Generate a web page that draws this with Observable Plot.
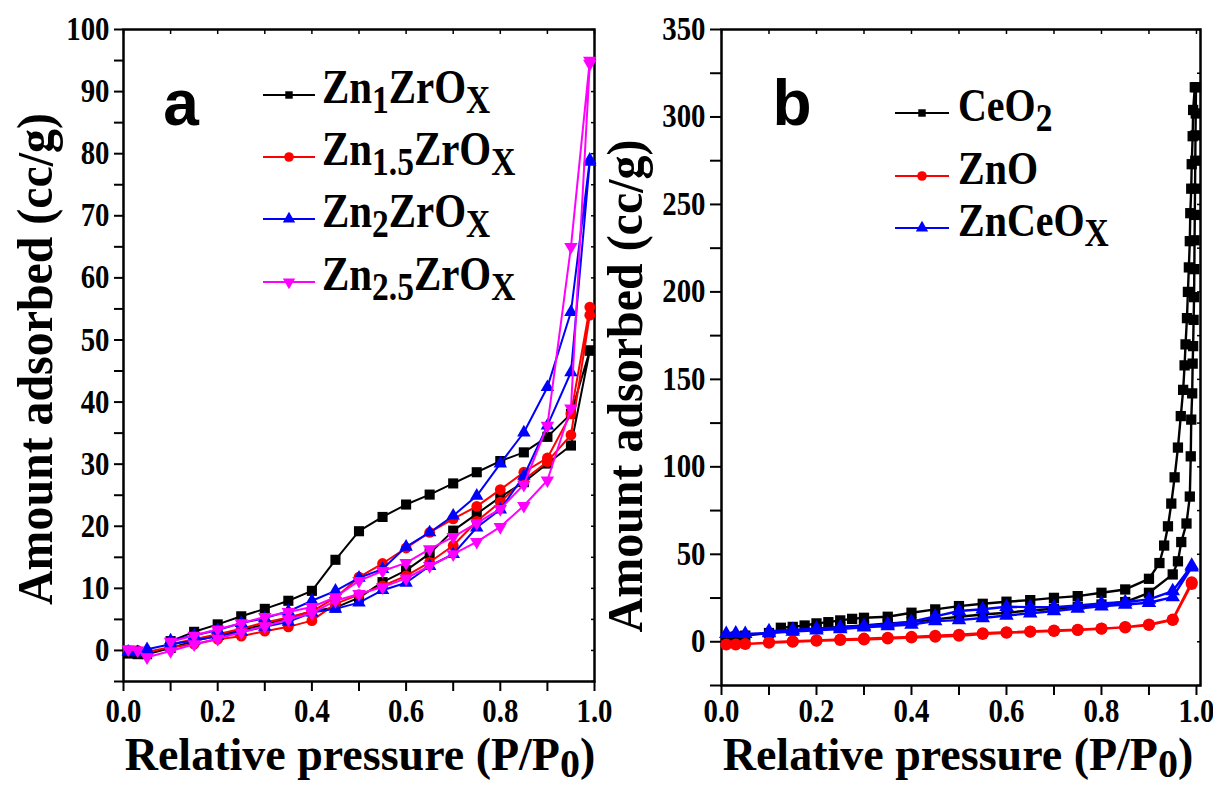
<!DOCTYPE html>
<html><head><meta charset="utf-8">
<script src="https://cdn.jsdelivr.net/npm/d3@7"></script>
<script src="https://cdn.jsdelivr.net/npm/@observablehq/plot@0.6"></script>
<style>
html,body{margin:0;padding:0;background:#fff;}
#wrap{position:relative;width:1213px;height:787px;overflow:hidden;background:#fff;}
#wrap svg{position:absolute;top:0;overflow:visible;}
</style></head><body><div id="wrap"></div>
<script>
// ---------- Panel a data ----------
const pA_ads = [0.01,0.03,0.05,0.1,0.15,0.2,0.25,0.3,0.35,0.4,0.45,0.5,0.55,0.6,0.65,0.7,0.75,0.8,0.85,0.9,0.95,0.99];
const pA_des = [0.99,0.95,0.9,0.85,0.8,0.75,0.7,0.65,0.6,0.55,0.5,0.45,0.4,0.35,0.3,0.25,0.2,0.15,0.1];
const zn1_ads  = [-0.5,-0.6,-0.6,0.4,1.5,2.4,3.3,4.2,5.2,6.3,6.9,8.5,11.0,12.9,15.6,19.3,22.0,24.7,27.1,30.1,33.0,48.3];
const zn1_des  = [48.3,38.1,34.4,31.9,30.5,28.7,26.9,25.1,23.5,21.5,19.2,14.6,9.6,8.0,6.7,5.5,4.2,3.0,1.5];
const zn15_ads = [0,0,-0.2,0.5,1.0,1.8,2.3,3.1,3.8,4.8,7.5,9.0,10.4,12.0,14.2,16.9,20.8,23.9,27.5,30.4,34.7,54.0];
const zn15_des = [55.3,38.1,31.0,28.7,25.9,23.2,21.2,19.0,16.5,14.0,11.8,8.5,6.3,5.3,4.5,3.5,2.6,1.8,1.0];
const zn2_ads  = [-0.2,-0.3,0.2,1.0,1.6,2.3,3.0,3.8,4.6,6.1,6.7,7.7,9.7,10.9,13.6,15.5,19.8,22.7,28.1,36.2,44.8,78.7];
const zn2_des  = [79.0,54.5,42.4,35.1,30.1,24.9,21.7,19.0,16.7,13.1,11.7,9.6,8.0,6.3,5.2,4.4,3.3,2.4,1.6];
const zn25_ads = [0.2,0,-1.1,-0.1,1.0,1.9,2.9,3.9,5.0,6.0,8.0,9.1,10.2,11.6,13.6,15.5,17.5,19.9,23.3,27.4,39.0,94.5];
const zn25_des = [95.0,65.0,36.2,26.7,22.8,20.5,18.3,16.3,14.1,12.8,11.2,8.6,7.0,6.2,5.4,4.4,3.4,2.4,1.4];

// ---------- Panel b data ----------
const pCe_ads = [0.01,0.03,0.05,0.1,0.15,0.2,0.25,0.3,0.35,0.4,0.45,0.5,0.55,0.6,0.65,0.7,0.75,0.8,0.85,0.9,0.95,0.961,0.968,0.979,0.986,0.988,0.989,0.991,0.992,0.993,0.994,0.995,0.9955,0.996,0.9965,0.997,0.9975,0.998,0.9985,0.999];
const ce_ads  = [2.5,3,3.5,5,6.5,7.5,8.5,9.3,10.5,11.2,12.8,14.3,15.6,16.6,17.9,18.9,20,21.3,22.7,28,38.5,46,57,67.6,83,106,127,142,159,169,184,197,213,229.5,244,259,275,289.5,302,317];
const pCe_des = [0.9965,0.993,0.992,0.99,0.989,0.987,0.986,0.984,0.982,0.98,0.977,0.975,0.972,0.967,0.961,0.954,0.947,0.94,0.932,0.922,0.9,0.85,0.8,0.75,0.7,0.65,0.6,0.55,0.5,0.45,0.4,0.35,0.3,0.275,0.25,0.225,0.2,0.175,0.15,0.125];
const ce_des  = [317,304,289,273,259,245,229,214,200,185,170,158,144,129,111,94,79,66,55,45,36,29.9,28,26.1,25.1,23.8,22.9,21.7,20.4,18.5,16.6,14.3,13.7,13.1,12.2,11.2,10.5,9.3,8.5,8];
const zno_ads = [-1.5,-1.5,-1.3,-0.6,0,0.6,1,1.3,1.9,2.4,2.8,3.4,4.4,5.1,5.7,6.1,6.7,7.4,8.4,9.9,12.8,34];
const zno_des = [33,12.5,9.6,8.2,7.6,6.9,6.4,5.9,5.4,4.9,4,3.4,2.8,2.3,1.8,1.3,0.8,0.3,-0.3];
const znce_ads = [4.5,4.8,4.5,5,5.8,6.5,7.2,8.2,9,9.9,11.8,12.4,13.6,15,16.3,17.5,19,20.3,21.3,22.3,25.5,42.5];
const znce_des = [43.5,29,24.2,22.7,21.9,20.8,19.8,19.8,20,18.6,17.6,14.5,11.5,10,9,8.2,7.5,6.8,6];

// tick values
const xMajor = [0,0.2,0.4,0.6,0.8,1.0];
const xMinor = [0.1,0.3,0.5,0.7,0.9];
const xAll = [0,0.1,0.2,0.3,0.4,0.5,0.6,0.7,0.8,0.9,1.0];
const yMajorA = [0,10,20,30,40,50,60,70,80,90,100];
const yMinorA = [-5,5,15,25,35,45,55,65,75,85,95];
const yMajorB = [0,50,100,150,200,250,300,350];
const yMinorB = [-25,25,75,125,175,225,275,325];

// symbols
const triDown = {
  draw(context, size) {
    const y = Math.sqrt(size / (Math.sqrt(3) * 3));
    context.moveTo(0, y * 2);
    context.lineTo(-Math.sqrt(3) * y, -y);
    context.lineTo(Math.sqrt(3) * y, -y);
    context.closePath();
  }
};

const seriesA = [
  {key:"zn1", color:"#000000", symbol:"square", r:5.7, p:pA_ads.concat(pA_des), v:zn1_ads.concat(zn1_des),
   label:[["Zn",0],["1",1],["ZrO",0],["X",1]]},
  {key:"zn15", color:"#ff0000", symbol:"circle", r:5.4, p:pA_ads.concat(pA_des), v:zn15_ads.concat(zn15_des),
   label:[["Zn",0],["1.5",1],["ZrO",0],["X",1]]},
  {key:"zn2", color:"#0000ff", symbol:"triangle", r:5.0, p:pA_ads.concat(pA_des), v:zn2_ads.concat(zn2_des),
   label:[["Zn",0],["2",1],["ZrO",0],["X",1]]},
  {key:"zn25", color:"#ff00ff", symbol:triDown, r:5.0, p:pA_ads.concat(pA_des), v:zn25_ads.concat(zn25_des),
   label:[["Zn",0],["2.5",1],["ZrO",0],["X",1]]}
];
const seriesB = [
  {key:"ceo2", color:"#000000", symbol:"square", r:5.8, p:pCe_ads.concat(pCe_des), v:ce_ads.concat(ce_des),
   label:[["CeO",0],["2",1]]},
  {key:"zno", color:"#ff0000", symbol:"circle", r:6.0, p:pA_ads.concat(pA_des), v:zno_ads.concat(zno_des),
   label:[["ZnO",0]]},
  {key:"znce", color:"#0000ff", symbol:"triangle", r:5.4, p:pA_ads.concat(pA_des), v:znce_ads.concat(znce_des),
   label:[["ZnCeO",0],["X",1]]}
];

const SERIF = "'Liberation Serif','Times New Roman',serif";
const tickFont = {fontFamily: SERIF, fontWeight: "bold", fontSize: 31, fill: "#000"};

function seriesMarks(series, sw) {
  const marks = [];
  for (const s of series) {
    const rows = s.p.map((p, i) => ({p, v: s.v[i]}));
    marks.push(Plot.line(rows, {x: "p", y: "v", stroke: s.color, strokeWidth: sw, curve: "linear"}));
    marks.push(Plot.dot(rows, {x: "p", y: "v", fill: s.color, stroke: "none", symbol: s.symbol, r: s.r}));
  }
  return marks;
}

function axesMarks(yMajor, yMinor, tickLen, xPad) {
  return [
    Plot.axisX({anchor: "bottom", ticks: xMajor, tickSize: 10, tickPadding: xPad, tickFormat: d => d.toFixed(1), label: null, strokeWidth: 2, ...tickFont}),
    Plot.axisX({anchor: "bottom", ticks: xMinor, tickSize: 10, tickFormat: () => "", label: null, strokeWidth: 2}),
    Plot.axisX({anchor: "top", ticks: xAll, tickSize: -4, tickFormat: () => "", label: null, strokeWidth: 1.5}),
    Plot.axisY({anchor: "left", ticks: yMajor, tickSize: tickLen, tickPadding: 5, label: null, strokeWidth: 2, ...tickFont}),
    Plot.axisY({anchor: "left", ticks: yMinor, tickSize: tickLen, tickFormat: () => "", label: null, strokeWidth: 2}),
    Plot.axisY({anchor: "right", ticks: yMajor.concat(yMinor), tickSize: -4, tickFormat: () => "", label: null, strokeWidth: 1.5}),
    Plot.frame({stroke: "#000", strokeWidth: 2.5})
  ];
}

// condense tick labels slightly (the reference type is tall and narrow)
function condenseTicks(svg) {
  d3.select(svg).selectAll('g[aria-label="x-axis tick label"] text, g[aria-label="y-axis tick label"] text')
    .each(function() {
      const t = this.getAttribute("transform") || "";
      this.setAttribute("transform", t + " scale(0.93,1.06)");
    });
}

function addRich(g, parts, size, subSize, subDy, anchor) {
  const t = g.append("text").attr("x", 0).attr("y", 0)
    .attr("font-family", SERIF).attr("font-weight", "bold").attr("font-size", size)
    .attr("fill", "#000").attr("text-anchor", anchor || "start");
  let shifted = false;
  for (const [txt, sub] of parts) {
    const ts = t.append("tspan").text(txt);
    if (sub && !shifted) { ts.attr("font-size", subSize).attr("dy", subDy); shifted = true; }
    else if (!sub && shifted) { ts.attr("dy", -subDy); shifted = false; }
    else if (sub) ts.attr("font-size", subSize);
  }
  return t;
}

function symbolPath(sym, r) {
  const map = {square: d3.symbolSquare, circle: d3.symbolCircle, triangle: d3.symbolTriangle};
  const type = typeof sym === "string" ? map[sym] : sym;
  return d3.symbol(type, r * r * Math.PI)();
}

function addLegend(svg, series, x1, x2, rows, textX, textDy, fsize, mr) {
  const g = d3.select(svg).append("g");
  series.forEach((s, i) => {
    const y = rows[i];
    g.append("line").attr("x1", x1).attr("x2", x2).attr("y1", y).attr("y2", y)
      .attr("stroke", s.color).attr("stroke-width", 2.2);
    g.append("path").attr("d", symbolPath(s.symbol, mr[i]))
      .attr("transform", `translate(${(x1 + x2) / 2},${y})`).attr("fill", s.color);
    const t = addRich(g, s.label, fsize, 36, 9);
    t.attr("transform", `translate(${textX},${y + textDy}) scale(0.93,1.1)`);
  });
  return g;
}

function addTitles(svg, yTitleX, yTitleY, yLen, xTitleX, panelLetter, letterX) {
  const g = d3.select(svg).append("g");
  const yt = g.append("text").attr("x", 0).attr("y", 0)
    .attr("text-anchor", "middle").attr("font-family", SERIF).attr("font-weight", "bold")
    .attr("font-size", 51).attr("fill", "#000").text("Amount adsorbed (cc/g)");
  const yl = yt.node().getComputedTextLength();
  yt.attr("transform", `translate(${yTitleX},${yTitleY}) rotate(-90) scale(${yLen / yl},1)`);
  const xt = addRich(g, [["Relative pressure (P/P", 0], ["0", 1], [")", 0]], 46, 40, 7, "middle");
  xt.attr("transform", `translate(${xTitleX},770)`);
  g.append("text").attr("x", letterX).attr("y", 125)
    .attr("font-family", "'Liberation Sans',Arial,sans-serif").attr("font-weight", "bold")
    .attr("font-size", 64).attr("fill", "#000").text(panelLetter);
}

const wrap = document.getElementById("wrap");

// ---------- Panel a ----------
const plotA = Plot.plot({
  width: 606, height: 787,
  marginLeft: 123, marginRight: 12, marginTop: 29, marginBottom: 106,
  x: {domain: [0, 1]},
  y: {domain: [-5, 100]},
  style: {background: "transparent", overflow: "visible"},
  marks: [...axesMarks(yMajorA, yMinorA, 9, 7), ...seriesMarks(seriesA, 2)]
});
plotA.style.left = "0px";
wrap.appendChild(plotA);
condenseTicks(plotA);
addTitles(plotA, 52, 359, 492, 360, "a", 181);
addLegend(plotA, seriesA, 263, 315, [95, 157, 219, 282], 322, 8, 44, [4.2, 4.8, 4.6, 4.6]);

// ---------- Panel b ----------
const plotB = Plot.plot({
  width: 607, height: 787,
  marginLeft: 115, marginRight: 13, marginTop: 29, marginBottom: 102,
  x: {domain: [0, 1.0085]},
  y: {domain: [-25, 350]},
  style: {background: "transparent", overflow: "visible"},
  marks: [...axesMarks(yMajorB, yMinorB, 11, 3), ...seriesMarks(seriesB, 2.4)]
});
plotB.style.left = "606px";
wrap.appendChild(plotB);
condenseTicks(plotB);
addTitles(plotB, 36, 386, 493, 352, "b", 186);
addLegend(plotB, seriesB, 289, 343, [113, 176, 228], 352, 8, 43, [4.2, 4.8, 4.6]);
</script></body></html>
